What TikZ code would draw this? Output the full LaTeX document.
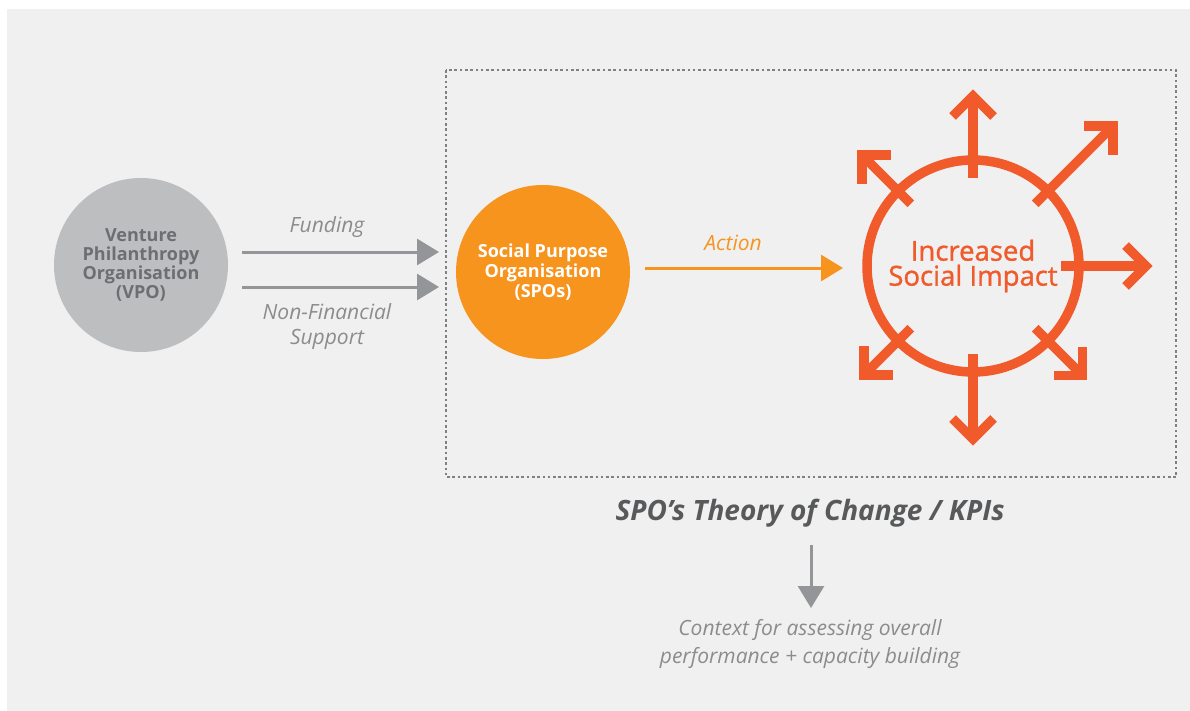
\documentclass[tikz,border=0pt]{standalone}
\usepackage{fontspec}
\setmainfont{Open Sans}
\usetikzlibrary{arrows.meta,positioning,calc}

\definecolor{bggray}{HTML}{F0F0F0}
\definecolor{vpogray}{HTML}{BDBEC0}
\definecolor{vpotext}{HTML}{6D6E71}
\definecolor{arrowgray}{HTML}{939598}
\definecolor{labelgray}{HTML}{8A8C8E}
\definecolor{spoorange}{HTML}{F7941D}
\definecolor{impactred}{HTML}{F15A2B}
\definecolor{boxgray}{HTML}{808080}
\definecolor{titlegray}{HTML}{58595B}

\tikzset{
  orgcircle/.style={circle, minimum size=174, inner sep=0pt, align=center},
  flowarrow/.style={line width=3, -{Triangle[length=22pt,width=26pt]}},
  flowlabel/.style={align=center, text=labelgray, font=\itshape\fontsize{21}{25}\selectfont},
  spoke/.style={impactred, line width=9.5, line join=miter},
}

\begin{document}
\begin{tikzpicture}[x=1pt, y=1pt]

        \useasboundingbox (0,0) rectangle (1190,-711);
        \fill[bggray] (7,-9) rectangle (1190,-711);

        % Define center points
        \node[orgcircle, fill=vpogray, text=vpotext, font=\bfseries\fontsize{18}{19}\selectfont] (vpo) at (141,-265) {Venture\\Philanthropy\\Organisation\\(VPO)};
        \node[orgcircle, fill=spoorange, text=white, font=\bfseries\fontsize{18}{20}\selectfont] (spo) at (543,-272) {Social Purpose\\Organisation\\(SPOs)};
        \node[circle, draw=impactred, line width=9.5, minimum size=212, inner sep=0pt, align=center, text=impactred, font=\addfontfeatures{FakeBold=1.2}\fontsize{27.5}{25}\selectfont] (impact) at (973,-266) {Increased\\Social Impact};

        % draw the dotted frame
        \draw[boxgray, line width=2.6, dash pattern=on 2.6 off 2.7] (446,-70) rectangle (1176,-477);

        % draw the funding and support arrows
        \draw[flowarrow, arrowgray] ($(vpo.center)+(101,13)$) -- ($(spo.center)+(-104,20)$);
        \draw[flowarrow, arrowgray] ($(vpo.center)+(101,-22)$) -- ($(spo.center)+(-104,-15)$);
        \node[flowlabel] (funding) at (327,-227) {Funding};
        \node[flowlabel] (support) at (327,-327) {Non-Financial\\Support};

        % draw the action arrow
        \draw[flowarrow, spoorange] ($(spo.center)+(102,4)$) -- ($(impact.center)+(-130,-2)$);
        \node[flowlabel, text=spoorange] (action) at (733,-243) {Action};

        % draw the arrows round the impact circle
        \foreach \ang/\len in {90/170, 45/198, 0/173, -45/155, -90/173, -135/154, 135/157} {
          \draw[spoke] ($(impact.center)+(\ang:88)$) -- ($(impact.center)+(\ang:\len)$);
          \draw[spoke] ($(impact.center)+(\ang:\len)+({\ang+135}:29)$) -- ($(impact.center)+(\ang:\len)$) -- ($(impact.center)+(\ang:\len)+({\ang-135}:29)$);
        }

        % add the theory of change caption
        \node[text=titlegray, font=\bfseries\itshape\fontsize{28}{30}\selectfont] (toc) at (810,-513) {SPO’s Theory of Change / KPIs};
        \node[flowlabel, font=\itshape\fontsize{21}{28}\selectfont] (context) at (810,-644) {Context for assessing overall\\performance + capacity building};
        \draw[flowarrow, arrowgray] ($(toc.center)+(1,-32)$) -- ($(context.center)+(1,36)$);

\end{tikzpicture}
\end{document}
